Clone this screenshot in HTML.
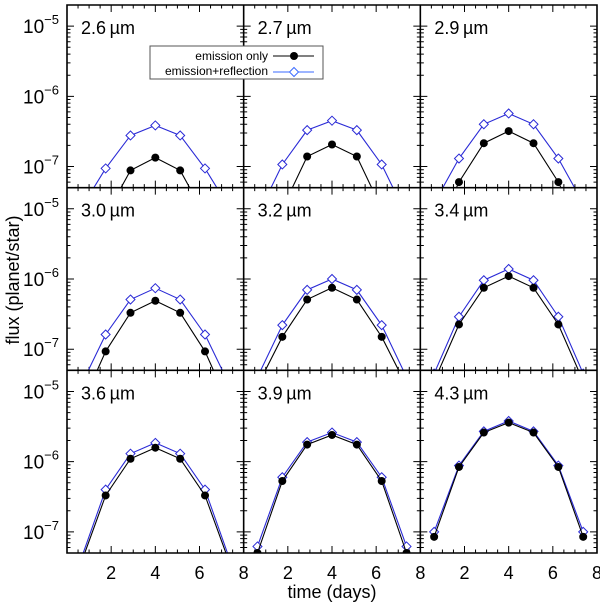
<!DOCTYPE html>
<html><head><meta charset="utf-8"><style>
body{margin:0;background:#fff}
svg{display:block;font-family:"Liberation Sans","DejaVu Sans",sans-serif}
</style></head><body>
<svg id="c" width="600" height="603" viewBox="0 0 600 603"></svg>
<script>
const labels=["2.6","2.7","2.9","3.0","3.2","3.4","3.6","3.9","4.3"];
const times=[0.625,1.75,2.875,4,5.125,6.25,7.375];
const emission=[
[1e-8,2e-8,8.8e-8,1.34e-7,8.8e-8,2e-8,1e-8],
[1.2e-8,2.5e-8,1.39e-7,2.06e-7,1.39e-7,2.5e-8,1.2e-8],
[1e-8,6e-8,2.15e-7,3.2e-7,2.15e-7,6e-8,1e-8],
[1.5e-8,9.3e-8,3.3e-7,4.9e-7,3.3e-7,9.3e-8,1.5e-8],
[3e-8,1.5e-7,5.1e-7,7.5e-7,5.1e-7,1.5e-7,3e-8],
[3.5e-8,2.25e-7,7.5e-7,1.1e-6,7.5e-7,2.25e-7,3.5e-8],
[3.5e-8,3.3e-7,1.1e-6,1.58e-6,1.1e-6,3.3e-7,3.5e-8],
[5e-8,5.3e-7,1.75e-6,2.4e-6,1.75e-6,5.3e-7,5e-8],
[8.5e-8,8.4e-7,2.6e-6,3.6e-6,2.6e-6,8.4e-7,8.5e-8]];
const reflection=[
[2.5e-8,9.4e-8,2.77e-7,3.85e-7,2.77e-7,9.4e-8,2.5e-8],
[2e-8,1.07e-7,3.3e-7,4.5e-7,3.3e-7,1.07e-7,2e-8],
[3e-8,1.3e-7,4e-7,5.7e-7,4e-7,1.3e-7,3e-8],
[3e-8,1.62e-7,5.1e-7,7.4e-7,5.1e-7,1.62e-7,3e-8],
[4e-8,2.2e-7,7e-7,1e-6,7e-7,2.2e-7,4e-8],
[4.5e-8,2.9e-7,9.6e-7,1.39e-6,9.6e-7,2.9e-7,4.5e-8],
[4e-8,4e-7,1.3e-6,1.85e-6,1.3e-6,4e-7,4e-8],
[6.2e-8,6e-7,1.9e-6,2.6e-6,1.9e-6,6e-7,6.2e-8],
[1e-7,8.8e-7,2.7e-6,3.8e-6,2.7e-6,8.8e-7,1e-7]];
const xTicks=[2,4,6,8];
const yTicks=[-5,-6,-7];

const NS="http://www.w3.org/2000/svg";
const svg=document.getElementById('c');
function mk(t,a,p){const e=document.createElementNS(NS,t);for(const k in a)e.setAttribute(k,a[k]);(p||svg).appendChild(e);return e;}
const L=67,R=597,T=5,B=553,PW=(R-L)/3,PH=(B-T)/3;
const YMIN=Math.log10(5e-8),YMAX=Math.log10(2e-5);
let defs=mk('defs',{});
for(let i=0;i<9;i++){const c=i%3,r=Math.floor(i/3);const cp=mk('clipPath',{id:'cp'+i},defs);
mk('rect',{x:L+c*PW,y:T+r*PH,width:PW,height:PH},cp);}
for(let i=0;i<9;i++){
 const c=i%3,r=Math.floor(i/3),x0=L+c*PW,y0=T+r*PH;
 const X=t=>x0+t/8*PW, Y=v=>y0+(YMAX-Math.log10(v))/(YMAX-YMIN)*PH;
 const g=mk('g',{});
 
 
 let d='';
 for(let t=0.5;t<8;t+=0.5){const L2=(t%2===0)?7:3.5;d+=`M${X(t)},${y0+PH}v${-L2}M${X(t)},${y0}v${L2}`;}
 for(let e=-8;e<=-5;e++)for(let m=1;m<10;m++){const v=m*Math.pow(10,e);const lv=Math.log10(v);if(lv<=YMIN||lv>=YMAX)continue;const L2=m===1?7:3.5;const yy=Y(v);d+=`M${x0},${yy}h${L2}M${x0+PW},${yy}h${-L2}`;}
 mk('path',{d:d,stroke:'#000','stroke-width':1,fill:'none'},g);
 const cg=mk('g',{'clip-path':`url(#cp${i})`},g);
 const series=[[reflection[i],'#2a2ad6','diamond'],[emission[i],'#000','dot']];
 series.forEach(([vals,col,sym])=>{
  const pts=times.map((t,k)=>[X(t),Y(vals[k])]);
  const pl=mk('polyline',{points:pts.map(p=>p.join(',')).join(' '),fill:'none',stroke:col,'stroke-width':1.1},cg);
  
  
  pts.forEach(p=>{let m;
   if(sym==='dot')m=mk('circle',{cx:p[0],cy:p[1],r:4,fill:'#000'},cg);
   else m=mk('path',{d:`M${p[0]},${p[1]-4.5}l4.5,4.5l-4.5,4.5l-4.5,-4.5z`,fill:'#fff',stroke:col,'stroke-width':1},cg);
   
   });
 });
 const lab=mk('text',{x:x0+14,y:y0+29,'font-size':18},g);lab.textContent=labels[i]+'\u2009\u00b5m';
 
 
 if(c===0){yTicks.forEach(e=>{const tx=mk('text',{x:x0-8,y:Y(Math.pow(10,e))+7,'font-size':19,'text-anchor':'end'},g);
  tx.innerHTML=`10<tspan dy="-9" font-size="13">\u2212${-e}</tspan>`;
  
  });}
 if(r===2){xTicks.forEach(t=>{const tx=mk('text',{x:X(t),y:579,'font-size':18,'text-anchor':'middle'},g);tx.textContent=t;
  
  });}
}
let fd=`M${L},${T}H${R}V${B}H${L}Z`;
for(let k=1;k<3;k++){fd+=`M${L+k*PW},${T}V${B}M${L},${T+k*PH}H${R}`;}
const fr=mk('path',{d:fd,fill:'none',stroke:'#000','stroke-width':1.6});


const lg=mk('g',{});


mk('rect',{x:150,y:46,width:173,height:33,fill:'#fff',stroke:'#555','stroke-width':1},lg);
const t1=mk('text',{x:268,y:60,'font-size':12,'text-anchor':'end'},lg);t1.textContent='emission only';
const t2=mk('text',{x:268,y:75,'font-size':12,'text-anchor':'end'},lg);t2.textContent='emission+reflection';
mk('line',{x1:273,y1:56,x2:314,y2:56,stroke:'#000'},lg);mk('circle',{cx:294,cy:56,r:4,fill:'#000'},lg);
mk('line',{x1:273,y1:72,x2:314,y2:72,stroke:'#3a6aff'},lg);
mk('path',{d:'M294,67.5l4.5,4.5l-4.5,4.5l-4.5,-4.5z',fill:'#fff',stroke:'#3a6aff'},lg);
const xt=mk('text',{x:332,y:598,'font-size':18,'text-anchor':'middle'});xt.textContent='time (days)';


const yt=mk('text',{x:0,y:0,'font-size':18,'text-anchor':'middle',transform:'translate(19,280) rotate(-90)'});yt.textContent='flux (planet/star)';


</script>
</body></html>
